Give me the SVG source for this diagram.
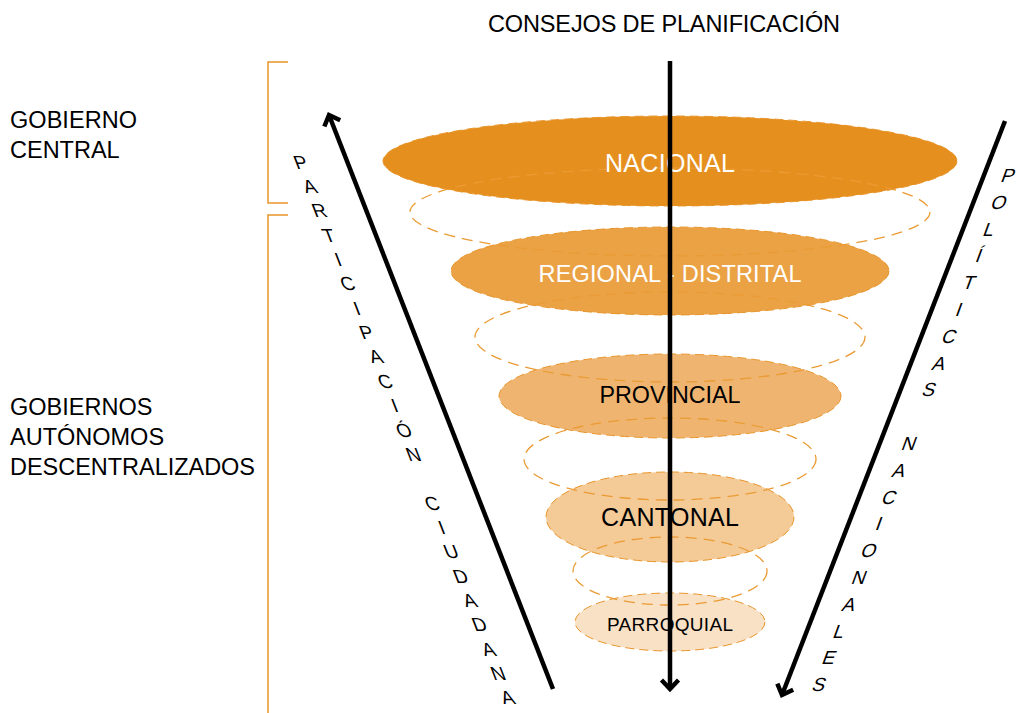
<svg xmlns="http://www.w3.org/2000/svg" width="1017" height="713" viewBox="0 0 1017 713">
<defs>
<style>
text{font-family:"Liberation Sans",Arial,sans-serif;}
.lbl{font-size:23.5px;fill:#000;}
.lvl{text-anchor:middle;}
.fill{stroke:#E8952A;stroke-width:1;stroke-dasharray:9 5;}
.dash{fill:none;stroke:#EA9B34;stroke-width:1.3;stroke-dasharray:11 7;}
.br{fill:none;stroke:#E8952A;stroke-width:1.5;}
.ar{fill:none;stroke:#000;stroke-width:4.5;}
.let{font-size:19px;text-anchor:middle;fill:#000;}
</style>
<marker id="chev" markerUnits="userSpaceOnUse" viewBox="-14 -12 18 24" markerWidth="18" markerHeight="24" refX="0" refY="0" orient="auto">
<path d="M-9,-8.5 L0,0 L-9,8.5" fill="none" stroke="#000" stroke-width="4.5"/>
</marker>
</defs>
<rect width="1017" height="713" fill="#fff"/>

<g id="title"><text class="lbl" x="488" y="32" font-size="23.5" textLength="352">CONSEJOS DE PLANIFICACIÓN</text></g>

<g id="gobierno-central">
<path class="br" d="M288,62 H268 V203 H288"/>
<text class="lbl" x="10" y="128" textLength="127">GOBIERNO</text>
<text class="lbl" x="10" y="158">CENTRAL</text>
</g>
<g id="gad">
<path class="br" d="M288,215 H268 V713"/>
<text class="lbl" x="10" y="415">GOBIERNOS</text>
<text class="lbl" x="10" y="445">AUTÓNOMOS</text>
<text class="lbl" x="10" y="475" textLength="245">DESCENTRALIZADOS</text>
</g>

<g id="levels">
<ellipse id="nacional" class="fill" cx="670" cy="161" rx="287" ry="45" fill="#E58F1E" stroke="#F0B466"/>
<ellipse id="regional" class="fill" cx="670" cy="271" rx="219" ry="44" fill="#EAA245"/>
<ellipse id="provincial" class="fill" cx="670" cy="396" rx="171" ry="42" fill="#EFB570"/>
<ellipse id="cantonal" class="fill" cx="670" cy="517" rx="124" ry="45" fill="#F4CA97"/>
<ellipse id="parroquial" class="fill" cx="670" cy="622" rx="95" ry="29" fill="#F9E1C6"/>
</g>
<g id="rings">
<ellipse class="dash" cx="670" cy="212" rx="260" ry="44"/>
<ellipse class="dash" cx="670" cy="337" rx="195" ry="45"/>
<ellipse class="dash" cx="670" cy="459" rx="146" ry="41"/>
<ellipse class="dash" cx="670" cy="571" rx="97" ry="34"/>
</g>
<g id="level-labels">
<text class="lvl" x="670" y="172" font-size="25" fill="#fff" textLength="130">NACIONAL</text>
<text class="lvl" x="670" y="282" font-size="23.5" fill="#fff" textLength="263">REGIONAL - DISTRITAL</text>
<text class="lvl" x="670" y="403" font-size="23.3" fill="#000" textLength="141">PROVINCIAL</text>
<text class="lvl" x="670" y="526" font-size="25" fill="#000" textLength="138">CANTONAL</text>
<text class="lvl" x="670" y="631" font-size="19" fill="#000" textLength="126">PARROQUIAL</text>
</g>

<g id="connectors">
<line class="ar" x1="670" y1="61" x2="670" y2="689" marker-end="url(#chev)"/>
<line class="ar" x1="553" y1="689" x2="329" y2="115" marker-end="url(#chev)"/>
<line class="ar" x1="1005" y1="121" x2="782" y2="695" marker-end="url(#chev)"/>
</g>

<g id="participacion">
<text class="let" transform="translate(303,168.5) skewX(21)">P</text>
<text class="let" transform="translate(312.4,192.9) skewX(21)">A</text>
<text class="let" transform="translate(321.8,217.2) skewX(21)">R</text>
<text class="let" transform="translate(331.2,241.6) skewX(21)">T</text>
<text class="let" transform="translate(340.6,265.9) skewX(21)">I</text>
<text class="let" transform="translate(350.1,290.3) skewX(21)">C</text>
<text class="let" transform="translate(359.5,314.7) skewX(21)">I</text>
<text class="let" transform="translate(368.9,339) skewX(21)">P</text>
<text class="let" transform="translate(378.3,363.4) skewX(21)">A</text>
<text class="let" transform="translate(387.7,387.7) skewX(21)">C</text>
<text class="let" transform="translate(397.1,412.1) skewX(21)">I</text>
<text class="let" transform="translate(406.5,436.5) skewX(21)">Ó</text>
<text class="let" transform="translate(415.9,460.8) skewX(21)">N</text>
<text class="let" transform="translate(434.7,509.5) skewX(21)">C</text>
<text class="let" transform="translate(444.1,533.9) skewX(21)">I</text>
<text class="let" transform="translate(453.5,558.3) skewX(21)">U</text>
<text class="let" transform="translate(463,582.6) skewX(21)">D</text>
<text class="let" transform="translate(472.4,607) skewX(21)">A</text>
<text class="let" transform="translate(481.8,631.4) skewX(21)">D</text>
<text class="let" transform="translate(491.2,655.7) skewX(21)">A</text>
<text class="let" transform="translate(500.6,680.1) skewX(21)">N</text>
<text class="let" transform="translate(510,704.4) skewX(21)">A</text>
</g>

<g id="politicas">
<text class="let" transform="translate(1006,182) skewX(-20)">P</text>
<text class="let" transform="translate(997,208.8) skewX(-20)">O</text>
<text class="let" transform="translate(987,235.6) skewX(-20)">L</text>
<text class="let" transform="translate(977,262.4) skewX(-20)">Í</text>
<text class="let" transform="translate(967,289.2) skewX(-20)">T</text>
<text class="let" transform="translate(957,316) skewX(-20)">I</text>
<text class="let" transform="translate(947,342.8) skewX(-20)">C</text>
<text class="let" transform="translate(937,369.6) skewX(-20)">A</text>
<text class="let" transform="translate(927,396.4) skewX(-20)">S</text>
<text class="let" transform="translate(907,450) skewX(-20)">N</text>
<text class="let" transform="translate(897,476.8) skewX(-20)">A</text>
<text class="let" transform="translate(887,503.6) skewX(-20)">C</text>
<text class="let" transform="translate(877,530.4) skewX(-20)">I</text>
<text class="let" transform="translate(867,557.2) skewX(-20)">O</text>
<text class="let" transform="translate(857,584) skewX(-20)">N</text>
<text class="let" transform="translate(847,610.8) skewX(-20)">A</text>
<text class="let" transform="translate(837,637.6) skewX(-20)">L</text>
<text class="let" transform="translate(827,664.4) skewX(-20)">E</text>
<text class="let" transform="translate(817,691.2) skewX(-20)">S</text>
</g>
</svg>
